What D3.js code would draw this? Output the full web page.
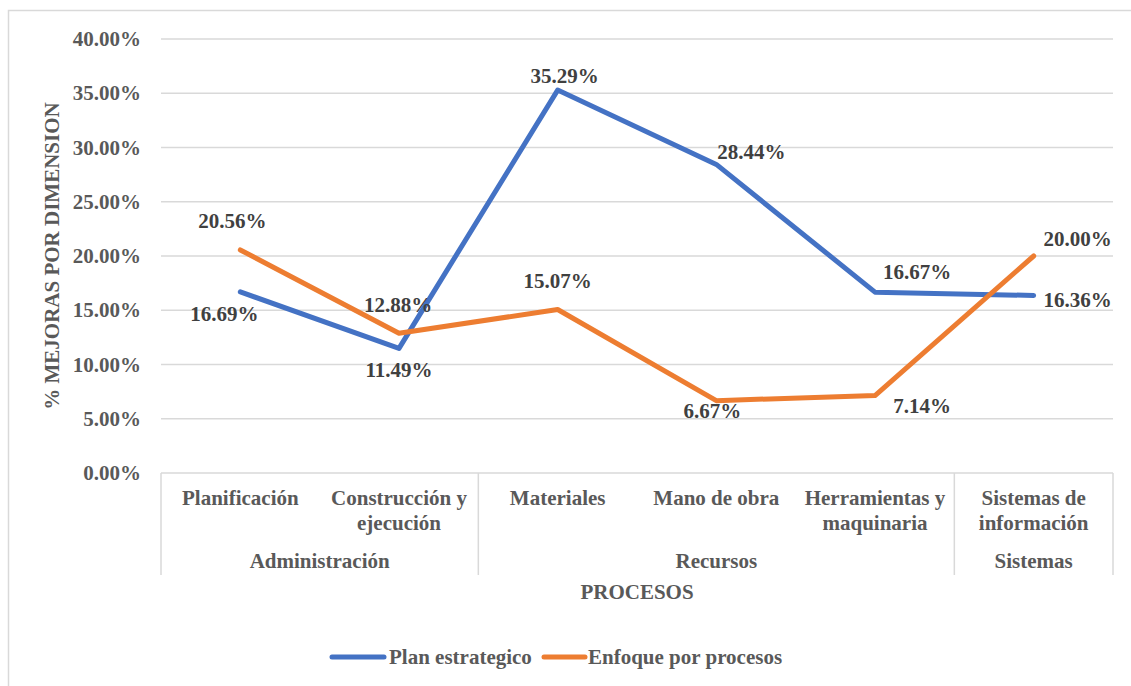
<!DOCTYPE html>
<html lang="es">
<head>
	<meta charset="utf-8">
	<title>Mejoras por dimension</title>
	<script src="https://d3js.org/d3.v7.min.js"></script>
	<style>
		body { margin: 0; background: #fff; }
		text { font-family: "Liberation Serif", "Times New Roman", serif; font-weight: bold; }
	</style>
</head>
<body>
	<div id="chart"></div>
	<script>
		// data
		let categories = [["Planificación"], ["Construcción y", "ejecución"], ["Materiales"], ["Mano de obra"], ["Herramientas y", "maquinaria"], ["Sistemas de", "información"]];
		let groups = ["Administración", "Recursos", "Sistemas"];
		let groupSizes = [2, 3, 1];
		let planEstrategico = [16.69, 11.49, 35.29, 28.44, 16.67, 16.36];
		let enfoqueProcesos = [20.56, 12.88, 15.07, 6.67, 7.14, 20.00];
		let yTicks = [0, 5, 10, 15, 20, 25, 30, 35, 40];
		let seriesNames = ["Plan estrategico", "Enfoque por procesos"];

		let width = 1131, height = 686;
		let plotLeft = 161, plotRight = 1113, plotTop = 39, plotBottom = 473;
		let colors = ["#4472C4", "#ED7D31"];
		let fs = 21;

		let svg = d3.select("#chart").append("svg")
			.attr("width", width)
			.attr("height", height);

		// outer border
		svg.append("rect")
			.attr("x", 8.5).attr("y", 10.5)
			.attr("width", 1140).attr("height", 700)
			.attr("fill", "none").attr("stroke", "#d9d9d9").attr("stroke-width", 1.5);

		let x = d3.scaleBand().domain(d3.range(categories.length)).range([plotLeft, plotRight]);
		let y = d3.scaleLinear().domain([0, 40]).range([plotBottom, plotTop]);

		// gridlines
		svg.append("g").selectAll("line")
			.data(yTicks.filter(d => d > 0))
			.enter().append("line")
			.attr("x1", plotLeft).attr("x2", plotRight)
			.attr("y1", d => y(d)).attr("y2", d => y(d))
			.attr("stroke", "#d9d9d9").attr("stroke-width", 1.3);

		// y tick labels
		svg.append("g").selectAll("text")
			.data(yTicks)
			.enter().append("text")
			.attr("x", 141).attr("y", d => y(d) + 7)
			.attr("text-anchor", "end")
			.attr("font-size", fs)
			.attr("fill", "#595959")
			.text(d => d.toFixed(2) + "%");

		// y axis title
		svg.append("text")
			.attr("transform", "translate(59,256) rotate(-90)")
			.attr("text-anchor", "middle")
			.attr("font-size", fs)
			.attr("fill", "#595959")
			.text("% MEJORAS POR DIMENSION");

		// x axis (multi-level)
		let axisG = svg.append("g");
		axisG.append("line")
			.attr("x1", plotLeft).attr("x2", plotRight)
			.attr("y1", plotBottom).attr("y2", plotBottom)
			.attr("stroke", "#d9d9d9").attr("stroke-width", 1.5);

		let bounds = [0];
		groupSizes.forEach(s => bounds.push(bounds[bounds.length - 1] + s));
		axisG.selectAll("line.sep")
			.data(bounds)
			.enter().append("line")
			.attr("class", "sep")
			.attr("x1", d => d < categories.length ? x(d) : plotRight)
			.attr("x2", d => d < categories.length ? x(d) : plotRight)
			.attr("y1", plotBottom).attr("y2", 575)
			.attr("stroke", "#d9d9d9").attr("stroke-width", 1.5);

		let catText = axisG.selectAll("text.cat")
			.data(categories)
			.enter().append("text")
			.attr("class", "cat")
			.attr("text-anchor", "middle")
			.attr("font-size", fs)
			.attr("fill", "#595959");
		catText.selectAll("tspan")
			.data((d, i) => d.map(t => ({t: t, i: i})))
			.enter().append("tspan")
			.attr("x", d => x(d.i) + x.bandwidth() / 2)
			.attr("y", (d, j) => 505 + j * 25)
			.text(d => d.t);

		axisG.selectAll("text.grp")
			.data(groups)
			.enter().append("text")
			.attr("class", "grp")
			.attr("text-anchor", "middle")
			.attr("font-size", fs)
			.attr("fill", "#595959")
			.attr("x", (d, i) => {
				let a = x(bounds[i]);
				let b = bounds[i + 1] < categories.length ? x(bounds[i + 1]) : plotRight;
				return (a + b) / 2;
			})
			.attr("y", 568)
			.text(d => d);

		svg.append("text")
			.attr("x", 637).attr("y", 599)
			.attr("text-anchor", "middle")
			.attr("font-size", fs)
			.attr("fill", "#595959")
			.text("PROCESOS");

		// lines
		let line = d3.line()
			.x((d, i) => x(i) + x.bandwidth() / 2)
			.y(d => y(d));

		let allSeries = [planEstrategico, enfoqueProcesos];
		svg.append("g").selectAll("path")
			.data(allSeries)
			.enter().append("path")
			.attr("d", d => line(d))
			.attr("fill", "none")
			.attr("stroke", (d, i) => colors[i])
			.attr("stroke-width", 5)
			.attr("stroke-linejoin", "round")
			.attr("stroke-linecap", "round");

		// data label offsets from the point (label centre)
		let labelOffsets = [
			[[-16, 22], [0, 22], [7, -14], [35, -12], [42, -20], [44, 5]],
			[[-8, -29], [-1, -28], [0, -28], [-4, 10], [47, 10], [44, -17]]
		];
		allSeries.forEach((s, si) => {
			svg.append("g").selectAll("text")
				.data(s)
				.enter().append("text")
				.attr("x", (d, i) => x(i) + x.bandwidth() / 2 + labelOffsets[si][i][0])
				.attr("y", (d, i) => y(d) + labelOffsets[si][i][1] + 7)
				.attr("text-anchor", "middle")
				.attr("font-size", fs)
				.attr("fill", "#404040")
				.text(d => d.toFixed(2) + "%");
		});

		// legend
		let legendX = [330, 542];
		let legend = svg.append("g").selectAll("g")
			.data(seriesNames)
			.enter().append("g")
			.attr("transform", (d, i) => "translate(" + legendX[i] + ",657)");
		legend.append("line")
			.attr("x1", 2).attr("x2", (d, i) => i === 0 ? 54 : 43)
			.attr("y1", 0).attr("y2", 0)
			.attr("stroke", (d, i) => colors[i])
			.attr("stroke-width", 5)
			.attr("stroke-linecap", "round");
		legend.append("text")
			.attr("x", (d, i) => i === 0 ? 59 : 46)
			.attr("y", 7)
			.attr("font-size", fs)
			.attr("fill", "#595959")
			.text(d => d);
	</script>
</body>
</html>
